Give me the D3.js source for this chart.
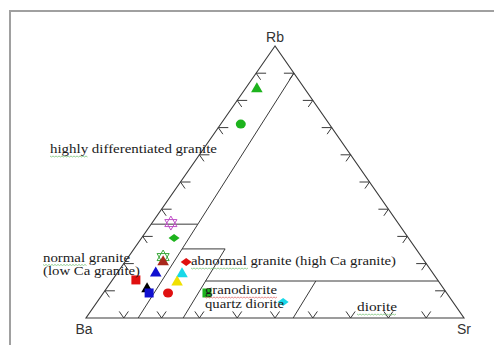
<!DOCTYPE html>
<html>
<head>
<meta charset="utf-8">
<script src="https://cdn.jsdelivr.net/npm/d3@7"></script>
<style>
  body { margin: 0; background: #fff; }
  svg { display: block; }
  .edge { fill: none; stroke: #3a3a3a; stroke-width: 1.1; }
  .tick { fill: none; stroke: #3a3a3a; stroke-width: 1; }
  .field { fill: none; stroke: #3a3a3a; stroke-width: 1; }
  .lab { font-family: "Liberation Serif", "DejaVu Serif", serif; font-size: 12px; fill: #1a1a1a; }
  .vlab { font-family: "Liberation Sans", Arial, sans-serif; font-size: 14px; fill: #333; }
</style>
</head>
<body>
<svg id="chart"></svg>
<script>
// Rb-Ba-Sr ternary diagram

var width = 494, height = 345;

// axis names (apex, left, right)
var vertexNames = ["Rb", "Ba", "Sr"];

// tick positions along every edge, in percent
var tickValues = [10, 20, 30, 40, 50, 60, 70, 80, 90];

// field boundaries, each as [Rb%, Sr%] end points
var fieldLines = [
  [[90, 10], [0, 13.8]],
  [[34.5, 0], [34.5, 12.3]],
  [[25.4, 12.7], [25.4, 24.1]],
  [[25.4, 24.1], [0, 25.7]],
  [[13.6, 24.8], [13.6, 86.4]],
  [[13.6, 54], [0, 54.8]]
];

// field names
var fieldLabels = [
  "highly differentiated granite",
  "normal granite",
  "(low Ca granite)",
  "abnormal granite (high Ca granite)",
  "granodiorite",
  "quartz diorite",
  "diorite"
];

// samples: Rb % and Sr % (Ba is the remainder)
var sampleRb = [84.2, 71.3, 34.9, 29.4, 22.4, 20.6, 20.6, 16.5, 16.2, 14.0, 13.2, 10.7, 9.2, 9.2, 9.2, 5.9];
var sampleSr = [3.1, 5.3, 5.0, 8.6, 9.2, 10.1, 16.2, 10.2, 17.3, 6.2, 17.5, 10.8, 12.1, 17.1, 27.4, 49.2];
var sampleSymbol = ["triangle", "circle", "hexagram", "diamond", "hexagram", "triangle", "diamond", "triangle",
                    "triangle", "square", "triangle", "triangle", "square", "circle", "square", "diamond"];
var sampleColor = ["#1db31d", "#1db31d", "#c050c8", "#1db31d", "#3aa83a", "#a8281c", "#e01010", "#1010d0",
                   "#18d8e8", "#e01010", "#f0e000", "#000000", "#1010d0", "#e01010", "#1db31d", "#18d8e8"];

var svg = d3.select("#chart")
    .attr("width", width)
    .attr("height", height);

// cartesian scales: x from (Sr + Rb/2), y from Rb
var x = d3.scaleLinear().domain([0, 100]).range([86, 464]);
var y = d3.scaleLinear().domain([0, 100]).range([318, 46]);

function pt(rb, sr) { return [x(sr + rb / 2), y(rb)]; }

// page frame
svg.append("rect")
    .attr("x", 10).attr("y", 11)
    .attr("width", 520).attr("height", 400)
    .attr("fill", "none")
    .attr("stroke", "#a0a0a0")
    .attr("stroke-width", 2);

var line = d3.line();

// triangle outline
var corners = [pt(100, 0), pt(0, 0), pt(0, 100)];
svg.append("path")
    .attr("class", "edge")
    .attr("d", line(corners) + "Z");

// ticks
var dRight = [189 / 331.2, 272 / 331.2];  // along Rb -> Sr
var dLeft = [-189 / 331.2, 272 / 331.2];  // along Rb -> Ba
var tl = 8, th = 10;
var ticks = svg.append("g").attr("class", "tick");
tickValues.forEach(function(v) {
  var p = pt(v, 0);  // left edge
  ticks.append("path").attr("d", line([[p[0] + th, p[1]], p, [p[0] + dRight[0] * tl, p[1] + dRight[1] * tl]]));
  p = pt(v, 100 - v);  // right edge
  ticks.append("path").attr("d", line([[p[0] - th, p[1]], p, [p[0] + dLeft[0] * tl, p[1] + dLeft[1] * tl]]));
  p = pt(0, v);  // bottom edge
  ticks.append("path").attr("d", line([[p[0] - dRight[0] * tl, p[1] - dRight[1] * tl], p,
                                        [p[0] - dLeft[0] * tl, p[1] - dLeft[1] * tl]]));
});

// field boundaries
svg.append("g").selectAll("path")
  .data(fieldLines)
  .enter().append("path")
    .attr("class", "field")
    .attr("d", function(d) { return line(d.map(function(e) { return pt(e[0], e[1]); })); });

// markers
function hexagram(r) {
  var a = [], b = [];
  for (var i = 0; i < 3; i++) {
    var t1 = -Math.PI / 2 + i * 2 * Math.PI / 3, t2 = Math.PI / 2 + i * 2 * Math.PI / 3;
    a.push([r * Math.cos(t1), r * Math.sin(t1)]);
    b.push([r * Math.cos(t2), r * Math.sin(t2)]);
  }
  return line(a) + "Z" + line(b) + "Z";
}
function markerPath(s) {
  if (s === "triangle") return d3.symbol(d3.symbolTriangle, 58)();
  if (s === "circle") return "M-5,0A5,4.5 0 1,0 5,0A5,4.5 0 1,0 -5,0Z";
  if (s === "square") return "M-4.5,-4.5H4.5V4.5H-4.5Z";
  if (s === "diamond") return "M-5.5,0L0,-4L5.5,0L0,4Z";
  return hexagram(7);
}

svg.append("g").selectAll("path")
  .data(sampleRb.map(function(rb, i) { return i; }))
  .enter().append("path")
    .attr("transform", function(i) { var p = pt(sampleRb[i], sampleSr[i]); return "translate(" + p[0] + "," + p[1] + ")"; })
    .attr("d", function(i) { return markerPath(sampleSymbol[i]); })
    .attr("fill", function(i) { return sampleSymbol[i] === "hexagram" ? "none" : sampleColor[i]; })
    .attr("stroke", function(i) { return sampleSymbol[i] === "hexagram" ? sampleColor[i] : "none"; })
    .attr("stroke-width", 1);

// field labels [x, y, width]
var labelPos = [[50, 153, 167], [43, 261.5, 87], [43, 275, 97], [191, 265, 205],
                [205, 294, 72], [205, 307.5, 79], [357, 311, 40]];
var labels = svg.append("g");
labels.selectAll("text")
  .data(fieldLabels)
  .enter().append("text")
    .attr("class", "lab")
    .attr("x", function(d, i) { return labelPos[i][0]; })
    .attr("y", function(d, i) { return labelPos[i][1]; })
    .attr("textLength", function(d, i) { return labelPos[i][2]; })
    .attr("lengthAdjust", "spacingAndGlyphs")
    .text(function(d) { return d; });

// spell-check squiggles under some words
var squiggles = [[50, 88, 156, "#7cc47c"], [43, 87, 264.5, "#7cc47c"], [191, 248, 268, "#7cc47c"],
                 [205, 277, 297, "#e07070"], [357, 397, 314, "#7cc47c"]];
squiggles.forEach(function(s) {
  var pts = [];
  for (var xx = s[0], k = 0; xx <= s[1]; xx += 1.5, k++) pts.push([xx, s[2] + (k % 2 ? 1 : 0)]);
  svg.append("path").attr("d", line(pts)).attr("fill", "none").attr("stroke", s[3]).attr("stroke-width", 0.8);
});

// vertex labels
svg.append("text").attr("class", "vlab").attr("text-anchor", "middle")
    .attr("x", corners[0][0]).attr("y", corners[0][1] - 4).text(vertexNames[0]);
svg.append("text").attr("class", "vlab").attr("text-anchor", "middle")
    .attr("x", corners[1][0] - 2).attr("y", corners[1][1] + 16).text(vertexNames[1]);
svg.append("text").attr("class", "vlab").attr("text-anchor", "middle")
    .attr("x", corners[2][0]).attr("y", corners[2][1] + 16).text(vertexNames[2]);
</script>
</body>
</html>
